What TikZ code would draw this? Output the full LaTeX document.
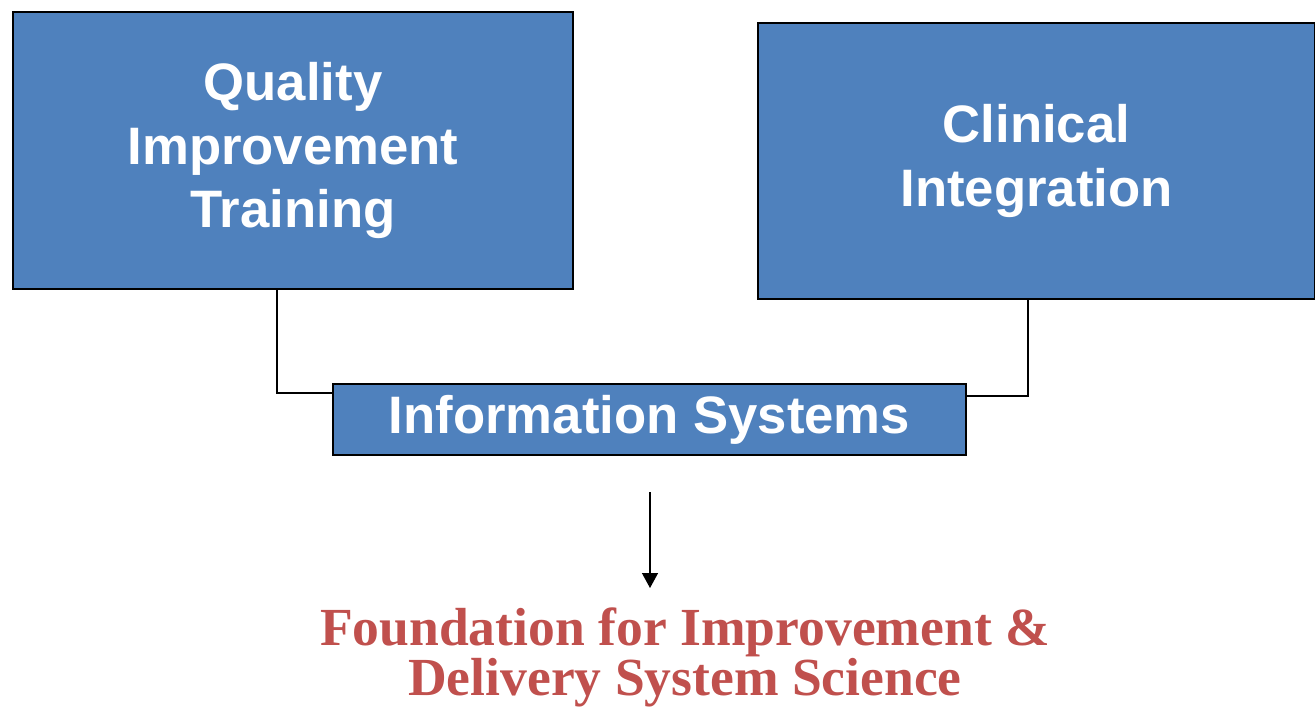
\documentclass[tikz,border=0pt]{standalone}
\usepackage{fontspec}
\setmainfont{Liberation Serif}
\newfontfamily\boxfont{Liberation Sans}
\usepackage{xcolor}
\usetikzlibrary{arrows.meta, calc, positioning}

\definecolor{boxblue}{HTML}{4F81BD}
\definecolor{titlered}{HTML}{C0504D}

\tikzset{
    bluebox/.style={draw=black, line width=1pt, fill=boxblue, inner sep=0pt,
        text=white, align=center, font=\boxfont\bfseries\fontsize{30}{36}\selectfont},
    link/.style={draw=black, line width=1pt},
}

\begin{document}
\begin{tikzpicture}[x=0.02cm, y=-0.02cm]
\useasboundingbox (0,0) rectangle (1315,707);

% Boxes
\node[bluebox, minimum width=11.2cm, minimum height=5.54cm] (qit) at (293,150.5)
    {Quality\\Improvement\\Training};
\node[bluebox, minimum width=11.14cm, minimum height=5.52cm] (ci) at (1036.5,161)
    {Clinical\\Integration};
\node[bluebox, minimum width=12.66cm, minimum height=1.42cm] (info) at (649.5,419.5)
    {Information Systems};

% Connectors
\coordinate (lbend) at (277,393);
\coordinate (rbend) at (1028,396);
\draw[link] (qit.south -| lbend) -- (lbend) -- (lbend -| info.west);
\draw[link] (ci.south -| rbend) -- (rbend) -- (rbend -| info.east);

% Result
\coordinate (atop) at (650,492);
\coordinate (abot) at (650,588);
\draw[line width=0.8pt, -{Triangle[width=0.32cm, length=0.3cm]}] (atop) -- (abot);

\node[anchor=north, inner sep=0pt, align=center, text=titlered,
    font=\bfseries\fontsize{30.5}{27.5}\selectfont] (found) at (685,607)
    {Foundation for Improvement \&\\Delivery System Science};
\end{tikzpicture}
\end{document}
